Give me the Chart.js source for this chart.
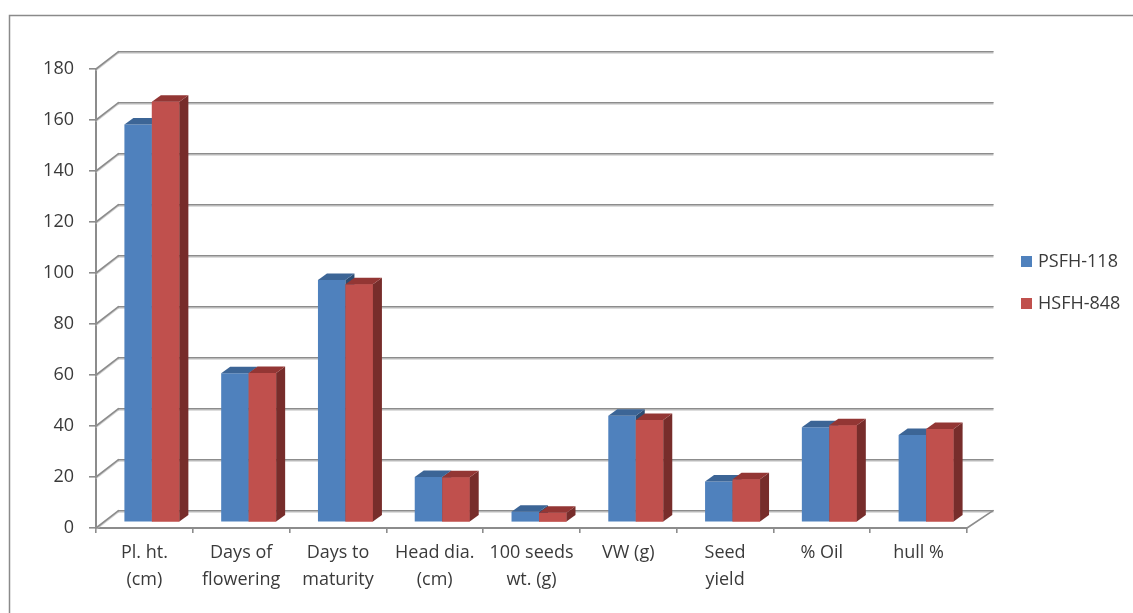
<!DOCTYPE html>
<html>
<head>
<meta charset="utf-8">
<title>PSFH-118 vs HSFH-848</title>
<script src="https://cdn.jsdelivr.net/npm/chart.js@4.4.1/dist/chart.umd.min.js"></script>
<style>
  html, body { margin: 0; padding: 0; background: #ffffff; }
  #wrap { position: relative; width: 1133px; height: 613px; }
</style>
</head>
<body>
<div id="wrap"><canvas id="chart"></canvas></div>
<script>
// ---- data ----
const categories = [
  ['Pl. ht.', '(cm)'],
  ['Days of', 'flowering'],
  ['Days to', 'maturity'],
  ['Head dia.', '(cm)'],
  ['100 seeds', 'wt. (g)'],
  ['VW (g)'],
  ['Seed', 'yield'],
  ['% Oil'],
  ['hull %']
];
const psfh118 = [156, 58.5, 95.1, 17.8, 4.2, 41.8, 16.0, 37.3, 34.3];
const hsfh848 = [165, 58.6, 93.4, 17.7, 3.8, 40.2, 16.9, 38.1, 36.6];
const seriesNames = ['PSFH-118', 'HSFH-848'];
const yMin = 0;
const yMax = 180;
const yStep = 20;

// ---- styling ----
const FRONT = ['#4F81BD', '#C0504D'];
const TOP = ['#3C6596', '#933634'];
const SIDE = ['#2D4C72', '#772D2B'];
const LINE = '#8C8C8C';
const TEXT = '#3A3A3A';
const FONT = "'Open Sans', sans-serif";

// pseudo-3D geometry (pixels)
const G = {
  barDx: 7.5, barDy: -5.6,     // bar plane offset from the front axis plane
  faceDx: 9, faceDy: -6.5,     // depth of each column
  wallDxL: 22.5, wallDxR: 26,  // back wall offset at left / right
  wallDy: -17.3
};

function seg(ctx, x1, y1, x2, y2) {
  ctx.beginPath();
  ctx.moveTo(x1, y1);
  ctx.lineTo(x2, y2);
  ctx.stroke();
}

function poly(ctx, pts, fill) {
  ctx.beginPath();
  ctx.moveTo(pts[0][0], pts[0][1]);
  for (let i = 1; i < pts.length; i++) ctx.lineTo(pts[i][0], pts[i][1]);
  ctx.closePath();
  ctx.fillStyle = fill;
  ctx.fill();
}

// walls, floor and outer frame; then shift the bars into the depth plane
const depthPlugin = {
  id: 'depth3d',
  beforeDatasetsDraw(chart) {
    const { ctx, chartArea: a, scales: { y } } = chart;
    ctx.save();
    // outer frame
    ctx.strokeStyle = '#8A8A8A';
    ctx.lineWidth = 1.5;
    ctx.beginPath();
    ctx.moveTo(9.5, chart.height);
    ctx.lineTo(9.5, 15.5);
    ctx.lineTo(chart.width, 15.5);
    ctx.stroke();

    // side wall diagonals + back wall gridlines
    y.ticks.forEach(t => {
      const py = y.getPixelForValue(t.value);
      const bx = a.left + G.wallDxL;
      const by = py + G.wallDy;
      const ex = a.right + G.wallDxR;
      ctx.lineCap = 'round';
      ctx.strokeStyle = 'rgba(190,190,190,0.7)';
      ctx.lineWidth = 1.2;
      seg(ctx, a.left, py + 1.4, bx, by + 1.4);
      seg(ctx, bx, by + 1.4, ex, by + 1.4);
      ctx.strokeStyle = LINE;
      ctx.lineWidth = 1.6;
      seg(ctx, a.left, py, bx, by);
      seg(ctx, bx, by, ex, by);
    });
    // floor right edge
    ctx.strokeStyle = LINE;
    ctx.lineWidth = 1.6;
    seg(ctx, a.right, a.bottom, a.right + G.wallDxR, a.bottom + G.wallDy);
    ctx.restore();

    ctx.save();
    ctx.translate(G.barDx, G.barDy);
  },
  afterDatasetsDraw(chart) {
    const ctx = chart.ctx;
    const metas = chart.data.datasets.map((d, i) => chart.getDatasetMeta(i));
    const n = chart.data.labels.length;
    for (let j = 0; j < n; j++) {
      metas.forEach((m, k) => {
        const el = m.data[j];
        if (!el) return;
        const p = el.getProps(['x', 'y', 'base', 'width'], true);
        const l = p.x - p.width / 2, r = p.x + p.width / 2;
        const t = Math.min(p.y, p.base), b = Math.max(p.y, p.base);
        // right side face
        poly(ctx, [[r, t], [r + G.faceDx, t + G.faceDy], [r + G.faceDx, b + G.faceDy], [r, b]], SIDE[k]);
        // top face
        poly(ctx, [[l, t], [r, t], [r + G.faceDx, t + G.faceDy], [l + G.faceDx, t + G.faceDy]], TOP[k]);
        // neighbouring column sits in front of this one's side face
        if (k + 1 < metas.length && metas[k + 1].data[j]) metas[k + 1].data[j].draw(ctx);
      });
    }
    ctx.restore();
  },
  afterDraw(chart) {
    const ctx = chart.ctx;
    ctx.save();
    ctx.font = '18px ' + FONT;
    ctx.textBaseline = 'middle';
    ctx.textAlign = 'left';
    chart.data.datasets.forEach((ds, i) => {
      const cy = 261.5 + i * 42;
      ctx.fillStyle = ds.backgroundColor;
      ctx.fillRect(1021, cy - 5.5, 11, 11);
      ctx.fillStyle = TEXT;
      ctx.fillText(ds.label, 1038, cy + 0.5);
    });
    ctx.restore();
  }
};

Chart.defaults.font.family = FONT;
Chart.defaults.color = TEXT;

new Chart(document.getElementById('chart'), {
  type: 'bar',
  data: {
    labels: categories,
    datasets: [
      { label: seriesNames[0], data: psfh118, backgroundColor: FRONT[0] },
      { label: seriesNames[1], data: hsfh848, backgroundColor: FRONT[1] }
    ]
  },
  options: {
    responsive: true,
    maintainAspectRatio: false,
    animation: false,
    events: [],
    layout: { padding: { top: 69, right: 166, bottom: 0, left: 0 } },
    datasets: {
      bar: { categoryPercentage: 0.568, barPercentage: 1.0, borderWidth: 0, clip: false }
    },
    plugins: {
      legend: { display: false },
      tooltip: { enabled: false },
      title: { display: false }
    },
    scales: {
      x: {
        offset: true,
        grid: { offset: true, drawOnChartArea: false, drawTicks: true, tickLength: 5, color: LINE, lineWidth: 1.6 },
        border: { display: true, color: LINE, width: 2 },
        ticks: {
          autoSkip: false, maxRotation: 0, minRotation: 0, padding: 6,
          color: TEXT, font: { size: 18, lineHeight: 1.5 }
        },
        afterFit: s => { s.height = 85; }
      },
      y: {
        min: yMin, max: yMax,
        grid: { drawOnChartArea: false, drawTicks: true, tickLength: 7, color: LINE, lineWidth: 1.6 },
        border: { display: true, color: LINE, width: 2 },
        ticks: { stepSize: yStep, padding: 15, color: TEXT, font: { size: 18 } },
        afterFit: s => { s.width = 96; }
      }
    }
  },
  plugins: [depthPlugin]
});
</script>
</body>
</html>
